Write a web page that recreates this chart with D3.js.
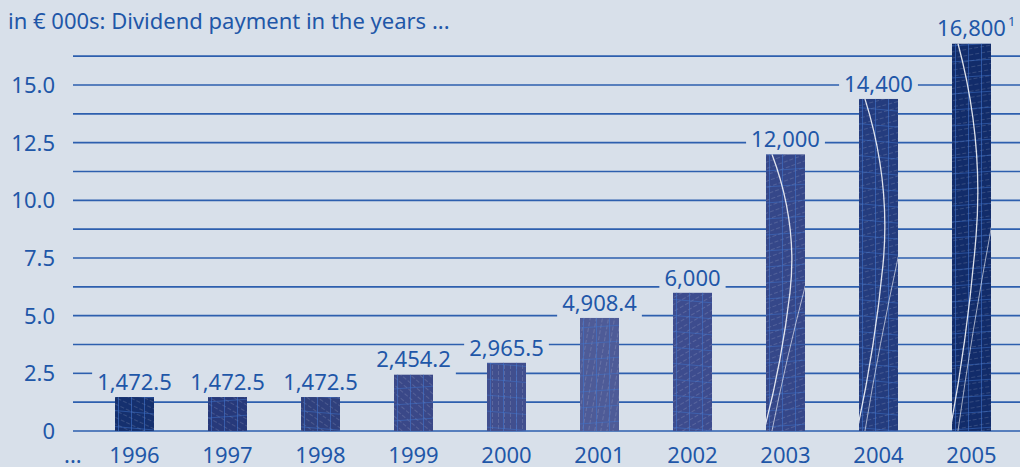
<!DOCTYPE html>
<html>
<head>
<meta charset="utf-8">
<script src="https://cdn.jsdelivr.net/npm/d3@7"></script>
<style>
  html, body { margin: 0; padding: 0; background: #d8e0ea; }
  svg { display: block; }
  text { font-family: "Noto Sans", sans-serif; fill: #1f57a8; }
</style>
</head>
<body>
<svg id="chart" width="1020" height="467"></svg>
<script>
// Dividend payments, in € 000s
const years = ["1996", "1997", "1998", "1999", "2000", "2001", "2002", "2003", "2004", "2005"];
const dividends = [1472.5, 1472.5, 1472.5, 2454.2, 2965.5, 4908.4, 6000, 12000, 14400, 16800];
const valueLabels = ["1,472.5", "1,472.5", "1,472.5", "2,454.2", "2,965.5", "4,908.4", "6,000", "12,000", "14,400", "16,800"];
const footnotes = ["", "", "", "", "", "", "", "", "", "1"];
const tickValues = [0, 2.5, 5.0, 7.5, 10.0, 12.5, 15.0];
const tickLabels = ["0", "2.5", "5.0", "7.5", "10.0", "12.5", "15.0"];
const gridValues = [0, 1.25, 2.5, 3.75, 5.0, 6.25, 7.5, 8.75, 10.0, 11.25, 12.5, 13.75, 15.0, 16.25];
const barColors = ["#15306e", "#27397a", "#2f407d", "#3a4888", "#414f8e", "#4e5b97", "#3d4c8e", "#354789", "#243c7e", "#122c6a"];
const hatchAngles = [-65, -60, -55, -50, 0, 10, 60, 70, 75, 80];
const title = "in € 000s: Dividend payment in the years ...";

const svg = d3.select("#chart");
const W = 1020;
const LINE = "#2d5fae";

const x = d3.scaleBand().domain(years).range([88, 1018]).paddingInner(0.58).paddingOuter(0.29);
const y = d3.scaleLinear().domain([0, 15]).range([431, 85]); // millions of euro
const yv = v => y(v / 1000);

// --- patterns that give the bars their engraved texture
const defs = svg.append("defs");
years.forEach((yr, i) => {
  const p = defs.append("pattern")
    .attr("id", "tex" + i)
    .attr("patternUnits", "userSpaceOnUse")
    .attr("width", 6).attr("height", 6)
    .attr("patternTransform", `rotate(${hatchAngles[i]})`);
  p.append("line").attr("x1", 0).attr("y1", 0).attr("x2", 0).attr("y2", 6)
    .attr("stroke", "#ffffff").attr("stroke-opacity", 0.4).attr("stroke-width", 0.7)
    .attr("stroke-dasharray", "3 2");
  const g = defs.append("pattern")
    .attr("id", "grid" + i)
    .attr("patternUnits", "userSpaceOnUse")
    .attr("width", 13).attr("height", 16)
    .attr("x", x(yr) + 3)
    .attr("patternTransform", `skewY(${i % 2 ? -4 : 5})`);
  g.append("path").attr("d", "M0,0V16M0,0H13")
    .attr("stroke", "#4073cc").attr("stroke-width", 1.2).attr("fill", "none");
  defs.append("clipPath").attr("id", "clip" + i)
    .append("rect")
    .attr("x", x(yr)).attr("y", yv(dividends[i]))
    .attr("width", x.bandwidth()).attr("height", y(0) - yv(dividends[i]));
});

// --- title
svg.append("text").attr("x", 8).attr("y", 29)
  .style("font-size", "22px").text(title);

// --- value label boxes (they interrupt the gridlines)
const fs = 22;
const boxes = years.map((yr, i) => {
  const cx = x(yr) + x.bandwidth() / 2;
  const base = yv(dividends[i]) - 7;
  return { cx, base };
});
const labels = svg.append("g");
const labelNodes = labels.selectAll("text").data(years).join("text")
  .attr("x", (d, i) => boxes[i].cx)
  .attr("y", (d, i) => boxes[i].base)
  .attr("text-anchor", "middle")
  .style("font-size", fs + "px")
  .text((d, i) => valueLabels[i]);
labelNodes.each(function (d, i) {
  const w = this.getComputedTextLength();
  boxes[i].x0 = boxes[i].cx - w / 2 - 5;
  boxes[i].x1 = boxes[i].cx + w / 2 + 5;
  boxes[i].y0 = boxes[i].base - 19;
  boxes[i].y1 = boxes[i].base + 7;
});

// --- gridlines, broken where a value label sits on them
const grid = svg.insert("g", "g");
gridValues.forEach(v => {
  const gy = y(v);
  const hits = boxes.filter(b => gy >= b.y0 && gy <= b.y1)
    .map(b => [b.x0, b.x1]).sort((a, b) => a[0] - b[0]);
  const merged = [];
  hits.forEach(h => {
    const last = merged[merged.length - 1];
    if (last && h[0] - last[1] < 22) last[1] = Math.max(last[1], h[1]);
    else merged.push(h.slice());
  });
  let start = 73;
  const segs = [];
  merged.forEach(m => { segs.push([start, m[0]]); start = m[1]; });
  segs.push([start, W]);
  segs.filter(s => s[1] > s[0]).forEach(s => {
    grid.append("line")
      .attr("x1", s[0]).attr("x2", s[1]).attr("y1", gy).attr("y2", gy)
      .attr("stroke", LINE).attr("stroke-width", 1.6);
  });
});

// --- bars
const bars = svg.insert("g", "g:last-of-type");
years.forEach((yr, i) => {
  const bx = x(yr), by = yv(dividends[i]), bw = x.bandwidth(), bh = y(0) - yv(dividends[i]);
  const g = bars.append("g").attr("clip-path", `url(#clip${i})`);
  g.append("rect").attr("x", bx).attr("y", by).attr("width", bw).attr("height", bh)
    .attr("fill", barColors[i]);
  g.append("rect").attr("x", bx).attr("y", by).attr("width", bw).attr("height", bh)
    .attr("fill", `url(#tex${i})`);
  g.append("rect").attr("x", bx).attr("y", by).attr("width", bw).attr("height", bh)
    .attr("fill", `url(#grid${i})`);
  if (dividends[i] >= 10000) {
    // sweeping highlight arcs on the tall bars
    g.append("path")
      .attr("d", `M${bx + 6},${by}Q${bx + 32},${by + bh * 0.25} ${bx + 24},${by + bh * 0.5}T${bx - 2},${y(0)}`)
      .attr("fill", "none").attr("stroke", "#ffffff").attr("stroke-opacity", 0.85).attr("stroke-width", 1.3);
    g.append("path")
      .attr("d", `M${bx + bw + 2},${by + bh * 0.45}Q${bx + bw * 0.5},${by + bh * 0.75} ${bx + 6},${y(0)}`)
      .attr("fill", "none").attr("stroke", "#ffffff").attr("stroke-opacity", 0.6).attr("stroke-width", 1);
  }
});
labels.raise();

// footnote marker
years.forEach((yr, i) => {
  if (!footnotes[i]) return;
  svg.append("text")
    .attr("x", boxes[i].x1 - 3).attr("y", boxes[i].base - 10)
    .style("font-size", "13px").text(footnotes[i]);
});

// --- y axis labels
svg.append("g").selectAll("text").data(tickValues).join("text")
  .attr("x", 55).attr("y", d => y(d) + 8)
  .attr("text-anchor", "end")
  .style("font-size", fs + "px")
  .text((d, i) => tickLabels[i]);

// --- x axis labels
svg.append("g").selectAll("text").data(years).join("text")
  .attr("x", d => x(d) + x.bandwidth() / 2).attr("y", 463)
  .attr("text-anchor", "middle")
  .style("font-size", fs + "px")
  .text(d => d);
svg.append("text").attr("x", 64).attr("y", 463).style("font-size", fs + "px").text("...");
</script>
</body>
</html>
